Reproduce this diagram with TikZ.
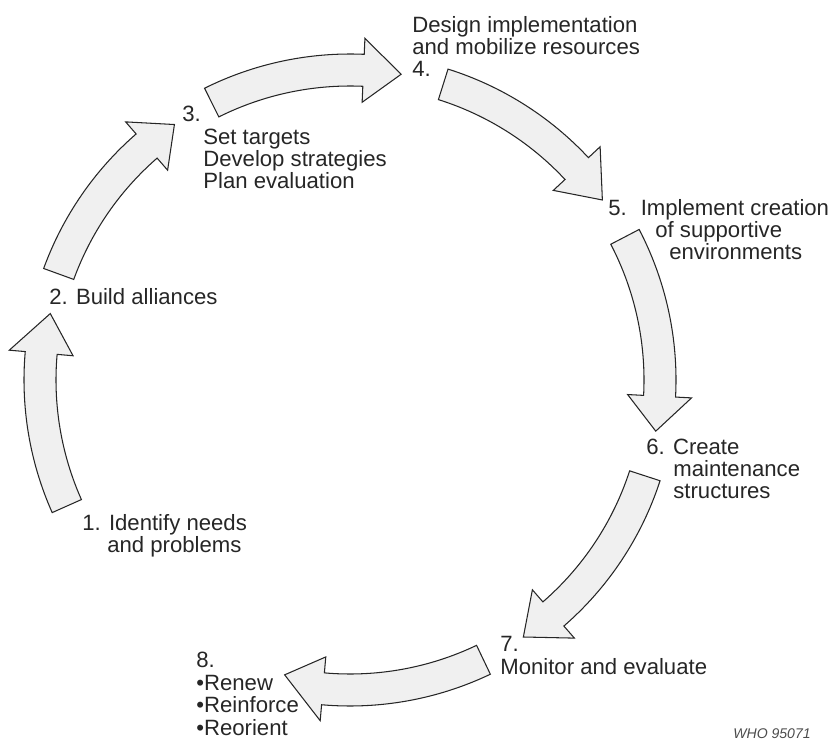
\documentclass[tikz,border=0pt]{standalone}
\usepackage{fontspec}
\setmainfont{Liberation Sans}
\usepackage{tikz}

\tikzset{
  cyclearrow/.style={draw=black!85, fill=black!6, line width=0.6pt, line join=miter},
  steptext/.style={anchor=base west, inner sep=0pt, align=left, text=black!85,
    font=\fontsize{12.6}{12.8}\selectfont},
}

\begin{document}
\begin{tikzpicture}[x=0.02cm, y=0.02cm]
    \useasboundingbox (0, 0) rectangle (834, 740);

    \begin{scope}[shift={(350, 360)}]
    \draw[cyclearrow] (204:326) arc[start angle=204, end angle=175, radius=326] -- (175:342) -- (167.5:307) -- (175:278) -- (175:294) arc[start angle=175, end angle=204, radius=294] -- cycle;
    \draw[cyclearrow] (160:326) arc[start angle=160, end angle=131, radius=326] -- (131:342) -- (124.5:310) -- (131:278) -- (131:294) arc[start angle=131, end angle=160, radius=294] -- cycle;
    \draw[cyclearrow] (116.5:326) arc[start angle=116.5, end angle=87.5, radius=326] -- (87.5:342) -- (80.5:310) -- (87.5:278) -- (87.5:294) arc[start angle=87.5, end angle=116.5, radius=294] -- cycle;
    \draw[cyclearrow] (72.5:326) arc[start angle=72.5, end angle=43, radius=326] -- (43:342) -- (35.5:310) -- (43:278) -- (43:294) arc[start angle=43, end angle=72.5, radius=294] -- cycle;
    \draw[cyclearrow] (27.5:326) arc[start angle=27.5, end angle=-3, radius=326] -- (-3:342) -- (-9.5:310) -- (-3:278) -- (-3:294) arc[start angle=-3, end angle=27.5, radius=294] -- cycle;
    \draw[cyclearrow] (-18:326) arc[start angle=-18, end angle=-49, radius=326] -- (-49:342) -- (-56:310) -- (-49:278) -- (-49:294) arc[start angle=-49, end angle=-18, radius=294] -- cycle;
    \draw[cyclearrow] (-64.5:326) arc[start angle=-64.5, end angle=-95, radius=326] -- (-95:342) -- (-102.5:302) -- (-95:278) -- (-95:294) arc[start angle=-95, end angle=-64.5, radius=294] -- cycle;
    \end{scope}

    % base anchor sits on the last line of each label
    \node[steptext] (step1) at (82, 187) {1. Identify needs\\\hspace*{0.5cm}and problems};
    \node[steptext] (step2) at (49, 435) {2. Build alliances};
    \node[steptext] (step3) at (182, 551) {3.\\\hspace*{0.42cm}Set targets\\\hspace*{0.42cm}Develop strategies\\\hspace*{0.42cm}Plan evaluation};
    \node[steptext] (step4) at (412, 663) {Design implementation\\and mobilize resources\\4.};
    \node[steptext] (step5) at (608, 480) {5.\hspace{0.28cm}Implement creation\\\hspace*{0.94cm}of supportive\\\hspace*{1.22cm}environments};
    \node[steptext] (step6) at (646, 241) {6. Create\\\hspace*{0.54cm}maintenance\\\hspace*{0.54cm}structures};
    \node[steptext] (step7) at (500, 66) {7.\\Monitor and evaluate};
    \node[steptext] (step8) at (196, 5) {8.\\\textbullet Renew\\\textbullet Reinforce\\\textbullet Reorient};
    \node[steptext, font=\fontsize{8}{9.6}\selectfont\itshape, text=black!70] (figno) at (733, 2) {WHO 95071};
\end{tikzpicture}
\end{document}
